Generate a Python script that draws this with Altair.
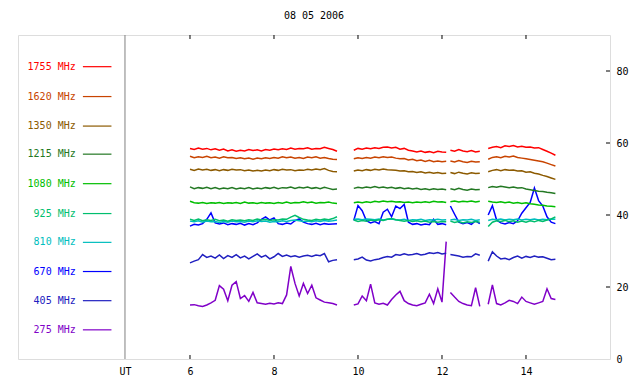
import altair as alt
import pandas as pd

FONT = "DejaVu Sans Mono"

# Series names, colours (legend order, top to bottom)
series = ["1755 MHz", "1620 MHz", "1350 MHz", "1215 MHz", "1080 MHz",
          "925 MHz", "810 MHz", "670 MHz", "405 MHz", "275 MHz"]
colors = ["#FF0000", "#C84400", "#8C5A00", "#237823", "#00BE00",
          "#00BE6E", "#00BEBE", "#0000FF", "#2020C0", "#8000C8"]
legend_y = [81.2, 72.9, 64.7, 56.9, 48.7, 40.4, 32.4, 24.3, 16.2, 8.1]

# Observation blocks (UT hours): start, number of samples at 0.1 h
block_start = [6.0, 9.9, 12.2, 13.1]
block_count = [36, 23, 8, 17]

s1755 = [
    [58.5, 58.2, 58.6, 58.3, 58.5, 58.1, 58.4, 58.0, 58.3, 57.8, 58.1, 57.7, 58.0, 57.8, 58.2, 57.9, 58.1, 57.8,
     58.2, 58.0, 58.3, 58.1, 58.4, 58.2, 58.6, 58.3, 58.5, 58.4, 58.7, 58.3, 58.5, 58.4, 58.8, 58.5, 58.2, 57.7],
    [58.0, 58.5, 58.3, 58.6, 58.4, 58.7, 58.5, 58.8, 58.9, 58.6, 58.8, 58.3, 58.5, 58.0, 57.8, 57.5, 57.8, 57.4,
     57.6, 57.3, 57.7, 57.5, 57.4],
    [58.0, 57.7, 58.2, 57.8, 57.6, 57.9, 57.5, 57.7],
    [58.5, 58.8, 59.0, 58.7, 59.2, 59.0, 59.3, 58.9, 59.1, 58.8, 58.9, 58.6, 58.7, 58.2, 57.7, 57.2, 56.6],
]
s1620 = [
    [56.3, 55.9, 56.2, 56.0, 56.3, 55.9, 56.1, 55.8, 56.2, 55.9, 56.0, 55.7, 55.9, 55.6, 55.8, 55.5, 55.8, 55.6,
     55.9, 55.7, 56.0, 55.8, 56.2, 55.9, 56.1, 55.8, 56.0, 55.7, 56.1, 55.9, 56.2, 55.8, 56.0, 55.7, 55.5, 55.4],
    [55.6, 55.9, 55.7, 56.0, 55.8, 56.1, 55.9, 56.2, 56.0, 56.1, 55.8, 55.6, 55.7, 55.3, 55.5, 55.1, 55.3, 54.9,
     55.2, 54.8, 55.0, 54.8, 54.9],
    [55.0, 54.7, 55.1, 54.8, 54.6, 54.9, 54.7, 54.8],
    [55.5, 56.0, 56.2, 55.9, 56.3, 56.1, 56.4, 56.0, 55.8, 55.6, 55.4, 55.2, 55.0, 54.8, 54.4, 54.0, 53.6],
]
s1350 = [
    [52.7, 52.4, 52.8, 52.5, 52.7, 52.4, 52.6, 52.3, 52.6, 52.4, 52.7, 52.5, 52.6, 52.3, 52.5, 52.2, 52.4, 52.2,
     52.5, 52.3, 52.6, 52.4, 52.7, 52.5, 52.6, 52.3, 52.5, 52.4, 52.7, 52.5, 52.8, 52.6, 52.9, 52.4, 52.1, 52.0],
    [52.2, 52.5, 52.3, 52.6, 52.4, 52.7, 52.5, 52.8, 52.6, 52.5, 52.4, 52.2, 52.3, 52.0, 52.1, 51.8, 52.0, 51.7,
     51.9, 51.6, 51.8, 51.5, 51.6],
    [51.8, 51.5, 51.9, 51.6, 51.4, 51.7, 51.5, 51.6],
    [52.0, 52.4, 52.6, 52.3, 52.6, 52.4, 52.5, 52.2, 52.3, 51.9, 52.0, 51.6, 51.4, 51.0, 50.7, 50.3, 49.9],
]
s1215 = [
    [47.8, 47.3, 47.6, 47.4, 47.7, 47.3, 47.6, 47.2, 47.5, 47.3, 47.6, 47.2, 47.5, 47.3, 47.6, 47.2, 47.5, 47.3,
     47.6, 47.4, 47.7, 47.3, 47.6, 47.5, 47.8, 47.4, 47.7, 47.5, 47.8, 47.4, 47.6, 47.3, 47.7, 47.4, 47.1, 47.2],
    [47.4, 47.7, 47.5, 47.8, 47.6, 47.9, 47.6, 47.8, 47.5, 47.7, 47.4, 47.6, 47.3, 47.5, 47.2, 47.4, 47.1, 47.3,
     47.0, 47.3, 47.1, 47.2, 47.0],
    [47.3, 47.0, 47.4, 47.1, 46.9, 47.2, 47.0, 47.1],
    [47.6, 47.9, 47.7, 48.0, 47.8, 47.6, 47.8, 47.5, 47.6, 47.2, 47.0, 46.8, 46.6, 46.5, 46.3, 46.2, 46.0],
]
s1080 = [
    [43.8, 43.4, 43.3, 43.5, 43.2, 43.4, 43.3, 43.5, 43.2, 43.4, 43.3, 43.5, 43.2, 43.6, 43.3, 43.4, 43.2, 43.5,
     43.3, 43.4, 43.2, 43.5, 43.3, 43.6, 43.3, 43.5, 43.4, 43.7, 43.4, 43.6, 43.3, 43.5, 43.4, 43.6, 43.3, 43.2],
    [43.4, 43.6, 43.4, 43.7, 43.5, 43.8, 43.6, 43.9, 43.7, 43.8, 43.6, 43.7, 43.5, 43.6, 43.4, 43.6, 43.5, 43.7,
     43.5, 43.8, 43.6, 43.7, 43.5],
    [43.7, 43.9, 43.6, 43.8, 43.7, 43.9, 43.6, 43.8],
    [43.8, 43.6, 43.5, 43.7, 43.4, 43.6, 43.3, 43.5, 43.2, 43.4, 43.1, 43.0, 42.8, 42.7, 42.5, 42.4, 42.3],
]
s925 = [
    [38.8, 38.5, 38.9, 38.4, 38.7, 38.5, 38.8, 38.4, 38.6, 38.3, 38.7, 38.5, 38.6, 38.4, 38.7, 38.5, 38.9, 38.6,
     38.8, 38.5, 38.7, 38.6, 38.9, 38.8, 39.4, 39.9, 39.3, 38.8, 38.6, 38.5, 38.8, 38.6, 38.9, 38.7, 39.0, 39.5],
    [38.6, 38.2, 38.5, 38.3, 38.6, 38.4, 38.7, 38.5, 38.8, 39.0, 38.7, 38.5, 38.3, 38.5, 38.2, 38.4, 38.1, 38.3,
     38.0, 38.2, 38.0, 38.2, 38.1],
    [38.3, 37.9, 38.2, 37.8, 38.1, 37.9, 38.2, 38.0],
    [36.8, 38.0, 38.4, 38.2, 38.5, 38.1, 38.4, 38.0, 38.3, 38.0, 38.4, 38.1, 38.5, 38.2, 38.6, 38.9, 39.5],
]
s810 = [
    [38.3, 38.1, 38.4, 38.0, 38.3, 38.1, 38.2, 37.9, 38.2, 38.0, 38.3, 38.1, 38.2, 38.0, 38.3, 38.1, 38.4, 38.2,
     38.3, 38.0, 38.2, 38.1, 38.4, 38.2, 38.5, 38.6, 38.4, 38.2, 38.3, 38.1, 38.4, 38.2, 38.5, 38.3, 38.4, 38.6],
    [38.8, 38.9, 38.7, 38.9, 38.8, 38.7, 38.9, 38.6, 38.8, 38.9, 38.7, 38.6, 38.8, 38.5, 38.7, 38.6, 38.8, 38.5,
     38.7, 38.6, 38.8, 38.6, 38.7],
    [38.6, 38.8, 38.5, 38.7, 38.6, 38.8, 38.5, 38.7],
    [38.5, 38.8, 38.7, 38.9, 38.6, 38.8, 38.7, 38.9, 38.6, 38.8, 38.7, 38.9, 38.6, 38.8, 38.7, 38.9, 38.8],
]
s670 = [
    [36.9, 37.4, 37.2, 37.6, 38.8, 40.6, 37.8, 37.5, 37.8, 37.3, 37.6, 37.4, 37.7, 37.2, 37.6, 37.3, 37.8, 38.8,
     39.5, 38.6, 39.2, 37.6, 37.4, 37.8, 37.5, 38.4, 38.9, 38.0, 37.6, 37.4, 37.7, 37.3, 37.6, 37.4, 37.5, 37.6],
    [38.5, 42.6, 41.2, 38.4, 37.8, 38.2, 37.6, 40.8, 41.6, 39.5, 42.5, 41.8, 42.9, 38.0, 37.4, 37.6, 37.2, 37.5,
     37.3, 38.8, 37.4, 37.6, 37.3],
    [42.5, 40.2, 38.0, 37.6, 37.9, 37.4, 38.4, 37.6],
    [40.0, 42.6, 38.6, 37.8, 37.5, 37.9, 37.6, 38.4, 40.5, 42.0, 43.5, 47.5, 44.0, 42.5, 39.5, 38.0, 37.6],
]
s405 = [
    [26.7, 27.2, 27.6, 29.0, 28.2, 28.6, 28.0, 28.9, 27.9, 28.7, 28.2, 29.0, 28.1, 28.6, 27.8, 28.5, 29.2, 28.3,
     28.8, 27.8, 28.4, 29.3, 28.5, 28.9, 28.4, 28.7, 28.3, 28.6, 28.8, 28.5, 28.9, 28.7, 29.3, 27.0, 27.4, 27.6],
    [27.6, 27.8, 28.3, 27.5, 27.2, 27.6, 27.8, 28.2, 28.5, 28.3, 29.0, 28.8, 29.2, 28.9, 29.0, 29.3, 28.9, 29.1,
     29.5, 29.3, 29.6, 29.2, 29.4],
    [29.0, 28.8, 28.6, 28.3, 28.5, 28.4, 29.2, 28.8],
    [27.2, 29.8, 28.6, 27.8, 28.0, 27.6, 28.2, 28.6, 28.0, 28.5, 28.2, 28.6, 28.3, 28.4, 28.0, 27.6, 27.7],
]
s275 = [
    [15.0, 15.1, 14.8, 14.6, 15.0, 15.6, 16.3, 20.4, 19.4, 16.2, 20.5, 21.5, 16.8, 17.6, 16.0, 18.5, 15.6, 15.4,
     15.2, 15.5, 15.3, 15.6, 15.4, 17.8, 25.7, 21.0, 17.5, 21.0, 18.2, 20.5, 17.0, 16.4, 15.8, 15.6, 15.4, 15.0],
    [15.0, 15.3, 17.5, 16.2, 20.8, 15.6, 15.2, 15.5, 15.0, 16.5, 17.8, 18.8, 16.2, 15.4, 15.0, 14.8, 15.2, 15.6,
     18.0, 15.4, 19.5, 15.8, 32.6],
    [18.5, 17.2, 16.0, 15.4, 15.0, 14.8, 19.8, 14.6],
    [15.2, 20.6, 15.4, 15.0, 15.6, 16.3, 16.0, 15.4, 17.2, 16.0, 15.6, 15.2, 15.6, 16.0, 19.5, 16.8, 16.5],
]
values = [s1755, s1620, s1350, s1215, s1080, s925, s810, s670, s405, s275]

x_ticks = [6, 8, 10, 12, 14]
y_ticks = [20, 40, 60, 80]
ut_pos = 4.452

rows = []
for si, name in enumerate(series):
    for bi, (st, n) in enumerate(zip(block_start, block_count)):
        for i in range(n):
            rows.append({"series": name, "order": si, "block": bi,
                         "t": round(st + 0.1 * i, 2), "v": values[si][bi][i]})
df = pd.DataFrame(rows)

leg = pd.DataFrame({"series": series, "y": legend_y, "c": colors,
                    "tx": [3.28] * 10, "lx": [3.45] * 10, "lx2": [4.13] * 10})

xscale = alt.Scale(domain=[1.905, 16.0], nice=False, zero=False)
yscale = alt.Scale(domain=[0, 90], nice=False, zero=False)
cscale = alt.Scale(domain=series, range=colors)

xaxis = alt.Axis(values=[ut_pos] + x_ticks, labelExpr="datum.value < 5 ? 'UT' : datum.label",
                 ticks=False, domain=False, grid=False, labelFont=FONT, labelFontSize=10,
                 labelColor="black", labelPadding=7, title=None)
yaxis = alt.Axis(orient="right", values=[0] + y_ticks, ticks=False, domain=False, grid=False,
                 labelFont=FONT, labelFontSize=10, labelColor="black", labelPadding=6, title=None)

lines = alt.Chart(df).mark_line(strokeWidth=1.5).encode(
    x=alt.X("t:Q", scale=xscale, axis=xaxis),
    y=alt.Y("v:Q", scale=yscale, axis=yaxis),
    color=alt.Color("series:N", scale=cscale, legend=None),
    detail="block:N",
    order="t:Q",
)
# draw lower-frequency series first so the ordering resembles the reference
lines_layers = [lines.transform_filter(alt.datum.series == s) for s in reversed(series)]

ut_df = pd.DataFrame({"x": [ut_pos]})
ut_rule = alt.Chart(ut_df).mark_rule(color="#808080", strokeWidth=1).encode(
    x=alt.X("x:Q", scale=xscale))

xt = pd.DataFrame({"x": x_ticks})
xticks_bottom = alt.Chart(xt).mark_rule(color="black").encode(
    x=alt.X("x:Q", scale=xscale), y=alt.value(324), y2=alt.value(320))
xticks_top = alt.Chart(xt).mark_rule(color="black").encode(
    x=alt.X("x:Q", scale=xscale), y=alt.value(0), y2=alt.value(4))
yt = pd.DataFrame({"y": y_ticks})
yticks = alt.Chart(yt).mark_rule(color="black").encode(
    y=alt.Y("y:Q", scale=yscale), x=alt.value(592), x2=alt.value(588))

leg_text = alt.Chart(leg).mark_text(align="right", baseline="middle", font=FONT, fontSize=10).encode(
    x=alt.X("tx:Q", scale=xscale), y=alt.Y("y:Q", scale=yscale),
    text="series:N", color=alt.Color("c:N", scale=None, legend=None))
leg_line = alt.Chart(leg).mark_rule(strokeWidth=1.2).encode(
    x=alt.X("lx:Q", scale=xscale), x2="lx2:Q", y=alt.Y("y:Q", scale=yscale),
    color=alt.Color("c:N", scale=None, legend=None))

chart = alt.layer(
    ut_rule, *lines_layers, xticks_bottom, xticks_top, yticks, leg_text, leg_line
).properties(
    width=592, height=324,
    title=alt.TitleParams("08 05 2006", font=FONT, fontSize=10, fontWeight="normal",
                          anchor="middle", offset=14, color="black"),
    autosize=alt.AutoSizeParams(type="none"),
    padding={"left": 10, "top": 27, "right": 22, "bottom": 20},
).configure_view(stroke="black", strokeWidth=1).configure(background="white")

chart.save("out.html", embed_options={"renderer": "svg", "actions": False})
